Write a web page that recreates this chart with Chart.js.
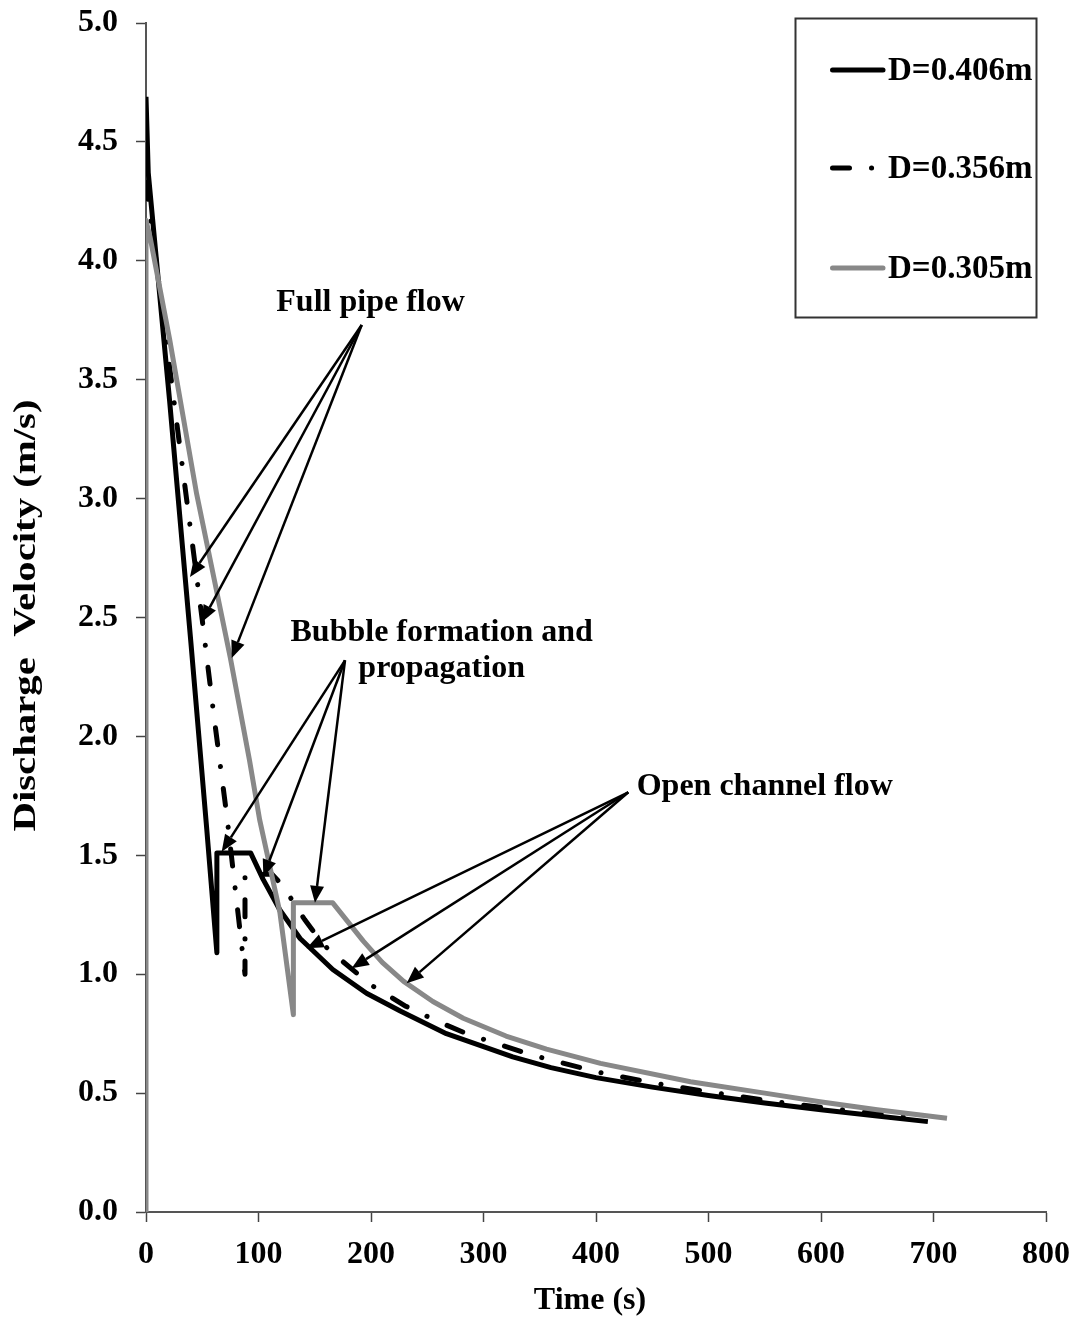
<!doctype html>
<html><head><meta charset="utf-8">
<title>Discharge velocity vs time</title>
<script src="https://cdn.jsdelivr.net/npm/chart.js@4"></script>
<style>
  html, body { margin: 0; padding: 0; background: #fff; }
  #wrap { width: 1081px; height: 1320px; }
</style>
</head><body>
<div id="wrap"><canvas id="chart" width="1081" height="1320"></canvas></div>
<script>
// series (time in s, velocity in m/s)
const labels = ['D=0.406m', 'D=0.356m', 'D=0.305m'];

const timeBlack = [0, 2, 21, 40, 54, 63, 63, 93, 104, 119, 137, 166, 196, 226, 267, 300, 326, 360, 400, 450, 500, 550, 600, 650, 695];
const velBlack  = [4.69, 4.37, 3.41, 2.39, 1.61, 1.09, 1.51, 1.51, 1.40, 1.27, 1.15, 1.02, 0.92, 0.845, 0.75, 0.695, 0.652, 0.607, 0.565, 0.525, 0.49, 0.458, 0.43, 0.404, 0.38];

const timeDash = [0, 30, 50, 60, 72, 88, 88, 112, 122, 130, 141, 155, 163, 200, 231, 260, 286, 343, 400, 450, 500, 550, 600, 650, 690];
const velDash  = [4.33, 3.22, 2.49, 2.10, 1.66, 1.00, 1.42, 1.42, 1.37, 1.31, 1.23, 1.14, 1.10, 0.955, 0.865, 0.80, 0.748, 0.66, 0.59, 0.543, 0.505, 0.47, 0.44, 0.413, 0.39];

const timeGray = [0, 0, 3.6, 21, 45, 75, 92, 101, 107, 119, 131, 131, 166, 193, 210, 229, 255, 282, 320, 356, 404, 484, 550, 599, 650, 712];
const velGray  = [0, 4.17, 4.10, 3.67, 3.02, 2.33, 1.90, 1.65, 1.52, 1.26, 0.83, 1.30, 1.30, 1.14, 1.05, 0.97, 0.885, 0.815, 0.74, 0.685, 0.625, 0.548, 0.50, 0.464, 0.43, 0.394];

const xTicks = [0, 100, 200, 300, 400, 500, 600, 700, 800];
const yTicks = [0, 0.5, 1, 1.5, 2, 2.5, 3, 3.5, 4, 4.5, 5];

const pts = (xs, ys) => xs.map((x, i) => ({ x, y: ys[i] }));

const SERIF = '"Liberation Serif", "Times New Roman", serif';
const FONT = 'bold 32px ' + SERIF;
const LEGEND_FONT = 'bold 33px ' + SERIF;
const tickFont = { family: SERIF, size: 32, weight: 'bold' };

// annotation texts and arrows, in data units
const notes = [
  { lines: ['Full pipe flow'], at: [199.6, 3.79], align: 'center',
    from: [191.7, 3.73], to: [[39.1, 2.67], [49.5, 2.48], [76.2, 2.33]] },
  { lines: ['Bubble formation and', 'propagation'], at: [262.8, 2.40], align: 'center',
    from: [176.9, 2.32], to: [[67.3, 1.515], [104.3, 1.41], [150.2, 1.30]] },
  { lines: ['Open channel flow'], at: [436.2, 1.754], align: 'left',
    from: [428.7, 1.765], to: [[142.8, 1.109], [182.8, 1.025], [231.7, 0.962]] }
];

function arrow(ctx, x1, y1, x2, y2) {
  const a = Math.atan2(y2 - y1, x2 - x1), len = 17, w = 7;
  const bx = x2 - len * Math.cos(a), by = y2 - len * Math.sin(a);
  ctx.beginPath(); ctx.moveTo(x1, y1); ctx.lineTo(bx, by); ctx.stroke();
  ctx.beginPath();
  ctx.moveTo(x2, y2);
  ctx.lineTo(bx + w * Math.sin(a), by - w * Math.cos(a));
  ctx.lineTo(bx - w * Math.sin(a), by + w * Math.cos(a));
  ctx.closePath(); ctx.fill();
}

const extras = {
  id: 'extras',
  afterDraw(chart) {
    const { ctx, chartArea: area, scales: { x, y } } = chart;
    ctx.save();
    ctx.fillStyle = '#000';
    ctx.strokeStyle = '#000';
    ctx.font = FONT;

    // annotations
    ctx.lineWidth = 2.5;
    notes.forEach(n => {
      const fx = x.getPixelForValue(n.from[0]), fy = y.getPixelForValue(n.from[1]);
      n.to.forEach(t => arrow(ctx, fx, fy, x.getPixelForValue(t[0]), y.getPixelForValue(t[1])));
      ctx.textAlign = n.align;
      ctx.textBaseline = 'alphabetic';
      const tx = x.getPixelForValue(n.at[0]);
      let ty = y.getPixelForValue(n.at[1]);
      n.lines.forEach(line => { ctx.fillText(line, tx, ty); ty += 36; });
    });

    // axis titles
    ctx.textAlign = 'center';
    ctx.textBaseline = 'middle';
    ctx.fillText('Time (s)', 590, 1301);
    const yt = 'Discharge  Velocity (m/s)';
    const w = ctx.measureText(yt).width;
    ctx.save();
    ctx.translate(27, (area.top + area.bottom) / 2 - 2);
    ctx.rotate(-Math.PI / 2);
    ctx.scale(432 / w, 1);
    ctx.fillText(yt, 0, 0);
    ctx.restore();

    // legend box
    const bx = area.right - 251, by = area.top - 5;
    ctx.lineWidth = 2;
    ctx.strokeStyle = '#333';
    ctx.strokeRect(bx + 0.5, by + 0.5, 241, 299);
    ctx.font = LEGEND_FONT;
    const rows = [52, 150, 250];
    chart.data.datasets.forEach((ds, i) => {
      const ry = by + rows[i];
      ctx.save();
      ctx.strokeStyle = ds.borderColor;
      ctx.lineWidth = ds.borderWidth;
      ctx.lineCap = 'round';
      ctx.setLineDash(ds.borderDash || []);
      ctx.beginPath();
      ctx.moveTo(bx + 37.5, ry);
      ctx.lineTo(bx + 88, ry);
      ctx.stroke();
      ctx.restore();
      ctx.textAlign = 'left';
      ctx.textBaseline = 'middle';
      ctx.fillText(ds.label, bx + 93, ry + 1);
    });
    ctx.restore();
  }
};

const axisGrid = { drawOnChartArea: false, tickLength: 10, color: '#444', tickWidth: 1.5 };
const axisBorder = { color: '#555', width: 2 };

new Chart(document.getElementById('chart'), {
  type: 'line',
  data: {
    datasets: [
      { label: labels[0], data: pts(timeBlack, velBlack), borderColor: '#000', borderWidth: 5,
        order: 3 },
      { label: labels[1], data: pts(timeDash, velDash), borderColor: '#000', borderWidth: 5,
        borderDash: [17, 22, 0.1, 22], borderCapStyle: 'round', order: 2 },
      { label: labels[2], data: pts(timeGray, velGray), borderColor: '#888', borderWidth: 5,
        order: 1 }
    ]
  },
  options: {
    responsive: false,
    animation: false,
    events: [],
    elements: { point: { radius: 0 }, line: { tension: 0, borderJoinStyle: 'round' } },
    layout: { padding: { top: 23, right: 35, left: 0, bottom: 0 } },
    plugins: { legend: { display: false }, tooltip: { enabled: false } },
    scales: {
      x: {
        type: 'linear', min: 0, max: 800,
        afterBuildTicks: s => { s.ticks = xTicks.map(v => ({ value: v })); },
        ticks: { font: tickFont, color: '#000', padding: 14, maxRotation: 0 },
        grid: axisGrid, border: axisBorder,
        afterFit: s => { s.height = 108; s.paddingLeft = 0; s.paddingRight = 0; }
      },
      y: {
        type: 'linear', min: 0, max: 5,
        afterBuildTicks: s => { s.ticks = yTicks.map(v => ({ value: v })); },
        ticks: { font: tickFont, color: '#000', padding: 18, callback: v => v.toFixed(1) },
        grid: axisGrid, border: axisBorder,
        afterFit: s => { s.width = 146; s.paddingTop = 0; s.paddingBottom = 0; }
      }
    }
  },
  plugins: [extras]
});
</script>
</body></html>
